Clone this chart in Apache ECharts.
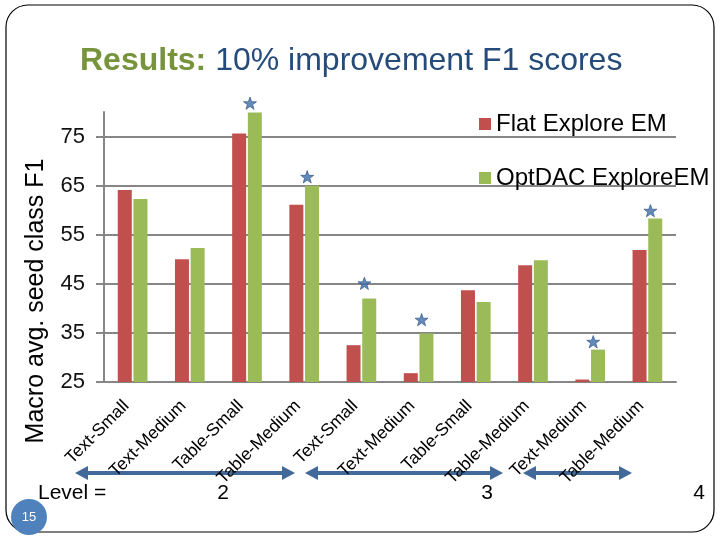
<!DOCTYPE html>
<html>
<head>
<meta charset="utf-8">
<script src="https://cdn.jsdelivr.net/npm/echarts@6/dist/echarts.min.js"></script>
<style>
  html, body { margin: 0; padding: 0; background: #fff; }
  #chart { width: 720px; height: 540px; }
</style>
</head>
<body>
<div id="chart"></div>
<script>
const categories = ['Text-Small', 'Text-Medium', 'Table-Small', 'Table-Medium', 'Text-Small',
  'Text-Medium', 'Table-Small', 'Table-Medium', 'Text-Medium', 'Table-Medium']
const flatExplore = [64.1, 50.0, 75.6, 61.1, 32.5, 26.8, 43.7, 48.8, 25.5, 51.9]
const optDacExplore = [62.3, 52.3, 79.9, 65.0, 42.0, 34.9, 41.3, 49.8, 31.6, 58.3]
// stars drawn above the significant improvements
const starMarks = [null, null, 81.8, 66.8, 45.1, 37.7, null, null, 33.2, 59.9]
const yTicks = [25, 35, 45, 55, 65, 75]
const levelLabels = ['Level =', '2', '3', '4']

const FONT = '"Liberation Sans", Arial, sans-serif'
const GRID_GRAY = '#868686'
const ARROW_BLUE = '#41699A'
const STAR_PATH = 'path://M12,0 L14.9,8.3 L23.4,8.3 L16.6,13.5 L19.1,21.7 L12,16.7 L4.9,21.7 L7.4,13.5 L0.6,8.3 L9.1,8.3 Z'

function arrow(x1, x2, y) {
  const h = 7, len = 13
  return {
    type: 'group',
    z: 5,
    children: [
      { type: 'line', shape: { x1: x1 + len - 2, y1: y, x2: x2 - len + 2, y2: y }, style: { stroke: ARROW_BLUE, lineWidth: 4 } },
      { type: 'polygon', shape: { points: [[x1, y], [x1 + len, y - h], [x1 + len, y + h]] }, style: { fill: ARROW_BLUE } },
      { type: 'polygon', shape: { points: [[x2, y], [x2 - len, y - h], [x2 - len, y + h]] }, style: { fill: ARROW_BLUE } }
    ]
  }
}

const chartOptions = {
  backgroundColor: '#fff',
  animation: false,
  textStyle: { fontFamily: FONT },
  title: {
    text: '{a|Results:}{b| 10% improvement F1 scores}',
    left: 80,
    top: 45,
    padding: 0,
    textStyle: {
      rich: {
        a: { fontFamily: FONT, fontSize: 32, fontWeight: 'bold', color: '#77933C' },
        b: { fontFamily: FONT, fontSize: 32, fontWeight: 'normal', color: '#254B7A' }
      }
    }
  },
  legend: {
    orient: 'vertical',
    left: 479,
    top: 112,
    padding: 0,
    icon: 'rect',
    itemWidth: 12,
    itemHeight: 12,
    itemGap: 30,
    itemTextGap: 10,
    textStyle: { fontFamily: FONT, fontSize: 24, color: '#000' },
    data: ['Flat Explore EM', 'OptDAC ExploreEM']
  },
  grid: {
    left: 104,
    right: 44,
    top: 112,
    bottom: 158,
    containLabel: false
  },
  xAxis: {
    type: 'category',
    data: categories,
    axisTick: { show: false },
    axisLine: { lineStyle: { color: GRID_GRAY, width: 2 } },
    axisLabel: {
      interval: 0,
      rotate: 45,
      margin: 15,
      padding: [0, 9, 0, 0],
      fontFamily: FONT,
      fontSize: 17.5,
      color: '#000'
    }
  },
  yAxis: {
    type: 'value',
    min: 25,
    max: 80,
    axisLine: { show: true, lineStyle: { color: GRID_GRAY, width: 2 } },
    axisTick: { show: true, length: 8, customValues: yTicks, lineStyle: { color: GRID_GRAY, width: 2 } },
    axisLabel: { customValues: yTicks, margin: 19, fontFamily: FONT, fontSize: 22, color: '#111' },
    splitLine: { show: true, lineStyle: { color: GRID_GRAY, width: 2 } }
  },
  series: [
    {
      name: 'Flat Explore EM',
      type: 'bar',
      barWidth: 14,
      barGap: '12%',
      data: flatExplore,
      itemStyle: { color: '#C0504D' }
    },
    {
      name: 'OptDAC ExploreEM',
      type: 'bar',
      barWidth: 14,
      data: optDacExplore,
      itemStyle: { color: '#9BBB59' }
    },
    {
      name: 'star',
      type: 'scatter',
      clip: false,
      symbol: STAR_PATH,
      symbolSize: 13,
      symbolKeepAspect: true,
      symbolOffset: [3, 0],
      data: starMarks.map(v => (v === null ? '-' : v)),
      itemStyle: { color: '#3D6DA8', borderColor: '#2B5082', borderWidth: 0.8 },
      z: 4
    }
  ],
  graphic: [
    {
      type: 'rect',
      shape: { x: 6, y: 5, width: 708, height: 527, r: 22 },
      style: { fill: null, stroke: '#000', lineWidth: 1.2 },
      z: 0
    },
    {
      type: 'text',
      x: 36,
      y: 301,
      rotation: Math.PI / 2,
      style: {
        text: 'Macro avg. seed class F1',
        font: '25px ' + FONT,
        fill: '#000',
        align: 'center',
        verticalAlign: 'middle'
      }
    },
    arrow(75, 295, 473),
    arrow(305, 503, 473),
    arrow(523, 632, 473),
    { type: 'text', x: 38, y: 493, style: { text: levelLabels[0], font: '21px ' + FONT, fill: '#000', verticalAlign: 'middle' } },
    { type: 'text', x: 223, y: 493, style: { text: levelLabels[1], font: '21px ' + FONT, fill: '#000', align: 'center', verticalAlign: 'middle' } },
    { type: 'text', x: 487, y: 493, style: { text: levelLabels[2], font: '21px ' + FONT, fill: '#000', align: 'center', verticalAlign: 'middle' } },
    { type: 'text', x: 699, y: 493, style: { text: levelLabels[3], font: '21px ' + FONT, fill: '#000', align: 'center', verticalAlign: 'middle' } },
    {
      type: 'circle',
      shape: { cx: 29, cy: 517, r: 18 },
      style: { fill: '#4F81BD' },
      z: 10
    },
    {
      type: 'text',
      x: 29,
      y: 517,
      z: 11,
      style: { text: '15', font: '13px ' + FONT, fill: '#fff', align: 'center', verticalAlign: 'middle' }
    }
  ]
}

const chartInstance = echarts.init(document.getElementById('chart'))
chartInstance.setOption(chartOptions)
window.addEventListener('resize', () => chartInstance.resize())
</script>
</body>
</html>
